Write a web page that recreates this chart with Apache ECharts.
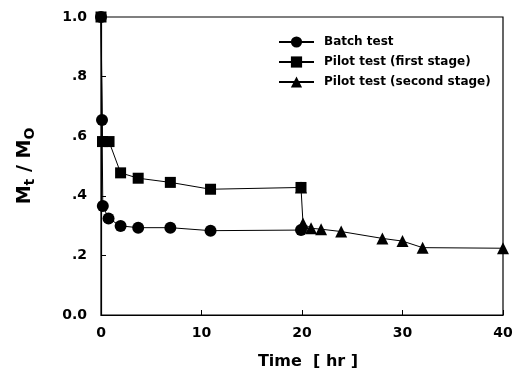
<!DOCTYPE html>
<html><head><meta charset="utf-8">
<script src="https://cdn.jsdelivr.net/npm/echarts@6/dist/echarts.min.js"></script>
<style>html,body{margin:0;padding:0;background:#fff}#c{width:521px;height:384px}</style>
</head><body><div id="c"></div>
<script>
const batchX = [0, 0.1, 0.18, 0.75, 1.95, 3.7, 6.9, 10.9, 19.9];
const batchY = [1.0, 0.654, 0.366, 0.324, 0.299, 0.293, 0.293, 0.283, 0.285];
const firstX = [0, 0.15, 0.8, 1.95, 3.7, 6.9, 10.9, 19.9];
const firstY = [1.0, 0.582, 0.582, 0.477, 0.459, 0.445, 0.422, 0.428];
const secondX = [19.9, 20.1, 20.9, 21.9, 23.9, 28, 30, 32, 40];
const secondY = [0.428, 0.307, 0.291, 0.288, 0.280, 0.257, 0.248, 0.226, 0.224];
const seriesNames = ['Batch test', 'Pilot test (first stage)', 'Pilot test (second stage)'];
const yTickLabels = {0: '0.0', 0.2: '.2', 0.4: '.4', 0.6: '.6', 0.8: '.8', 1: '1.0'};

const pair = (xs, ys) => xs.map((x, i) => [x, ys[i]]);
const FONT = 'DejaVu Sans, sans-serif';
const chart = echarts.init(document.getElementById('c'));
const mk = (name, data, symbol, size) => ({
  name, type: 'line', data, symbol, symbolSize: size, showAllSymbol: true,
  lineStyle: {color: '#000', width: 1}, itemStyle: {color: '#000'},
  animation: false, z: 3
});
chart.setOption({
  animation: false,
  grid: {left: 101, right: 18, top: 17, bottom: 69, show: true, borderColor: '#000', borderWidth: 1.2},
  legend: {
    orient: 'vertical', left: 278, top: 36, padding: 0, itemWidth: 35, itemHeight: 14, itemGap: 8,
    textStyle: {fontFamily: FONT, fontWeight: 'bold', fontSize: 12, color: '#000', padding: [0, 0, 0, 5]},
    data: seriesNames
  },
  xAxis: {
    type: 'value', min: 0, max: 40, interval: 10,
    name: 'Time  [ hr ]', nameLocation: 'middle', nameGap: 39,
    nameTextStyle: {fontFamily: FONT, fontWeight: 'bold', fontSize: 16, color: '#000', padding: [0, 0, 0, 12]},
    axisLine: {lineStyle: {color: '#000', width: 1.2}},
    axisTick: {inside: true, length: 5, lineStyle: {color: '#000'}},
    axisLabel: {fontFamily: FONT, fontWeight: 'bold', fontSize: 14, color: '#000', margin: 11},
    splitLine: {show: false}
  },
  yAxis: {
    type: 'value', min: 0, max: 1, interval: 0.2,
    name: '{m|M}{s|t}{m| / M}{s|O}', nameLocation: 'middle', nameGap: 64,
    nameTextStyle: {
      rich: {
        m: {fontFamily: FONT, fontWeight: 'bold', fontSize: 19, color: '#000', lineHeight: 24},
        s: {fontFamily: FONT, fontWeight: 'bold', fontSize: 14, color: '#000', lineHeight: 14, verticalAlign: 'bottom'}
      }
    },
    axisLine: {lineStyle: {color: '#000', width: 1.2}},
    axisTick: {inside: true, length: 5, lineStyle: {color: '#000'}},
    axisLabel: {fontFamily: FONT, fontWeight: 'bold', fontSize: 14, color: '#000', margin: 14,
      formatter: v => yTickLabels[Math.round(v * 10) / 10] ?? String(v)},
    splitLine: {show: false}
  },
  series: [
    mk(seriesNames[0], pair(batchX, batchY), 'circle', 12),
    mk(seriesNames[1], pair(firstX, firstY), 'rect', 11),
    mk(seriesNames[2], pair(secondX, secondY), 'triangle', 12)
  ]
});
</script></body></html>
